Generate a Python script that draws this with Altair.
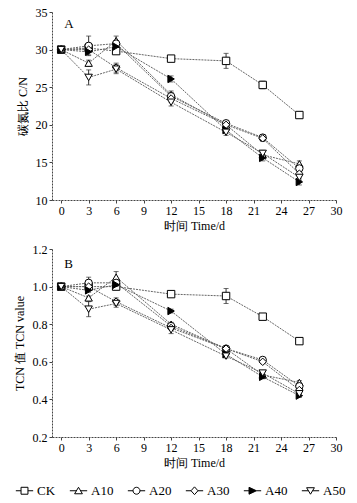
import altair as alt
import pandas as pd

days = [0, 3, 6, 12, 18, 22, 26]
series = ["CK", "A10", "A20", "A30", "A40", "A50"]

# Panel A: C/N ratio
cn_CK  = [30.0, 30.2, 29.8, 28.8, 28.5, 25.3, 21.3]
cn_A10 = [30.0, 28.2, 31.2, 24.0, 20.0, 16.0, 14.8]
cn_A20 = [30.0, 30.5, 30.8, 23.8, 20.2, 18.3, 14.2]
cn_A30 = [30.0, 30.0, 27.6, 23.5, 20.0, 18.2, 13.5]
cn_A40 = [30.0, 29.7, 30.4, 26.1, 19.3, 15.6, 12.4]
cn_A50 = [30.0, 26.3, 27.4, 23.0, 19.0, 16.2, 13.0]
cn_err_CK  = [0.3, 0.3, 0.3, 0.3, 1.0, 0.5, 0.4]
cn_err_A10 = [0.3, 0.4, 0.6, 0.5, 0.4, 0.4, 0.4]
cn_err_A20 = [0.3, 1.3, 0.4, 0.5, 0.4, 0.4, 0.4]
cn_err_A30 = [0.3, 0.4, 0.6, 0.5, 0.4, 0.4, 0.4]
cn_err_A40 = [0.3, 0.4, 0.4, 0.4, 0.4, 0.4, 0.4]
cn_err_A50 = [0.3, 1.0, 0.6, 0.5, 0.4, 0.4, 0.4]

# Panel B: T_CN value
t_CK  = [1.00, 1.00, 1.00, 0.96, 0.95, 0.84, 0.71]
t_A10 = [1.00, 0.94, 1.05, 0.80, 0.67, 0.53, 0.49]
t_A20 = [1.00, 1.02, 1.02, 0.79, 0.67, 0.61, 0.47]
t_A30 = [1.00, 1.00, 0.92, 0.78, 0.67, 0.60, 0.45]
t_A40 = [1.00, 0.98, 1.01, 0.87, 0.64, 0.52, 0.42]
t_A50 = [1.00, 0.88, 0.91, 0.77, 0.63, 0.54, 0.43]
t_err_CK  = [0.01, 0.01, 0.01, 0.01, 0.04, 0.01, 0.01]
t_err_A10 = [0.01, 0.01, 0.03, 0.01, 0.01, 0.01, 0.01]
t_err_A20 = [0.01, 0.03, 0.01, 0.01, 0.01, 0.01, 0.01]
t_err_A30 = [0.01, 0.01, 0.02, 0.01, 0.01, 0.01, 0.01]
t_err_A40 = [0.01, 0.01, 0.01, 0.01, 0.01, 0.01, 0.01]
t_err_A50 = [0.01, 0.04, 0.02, 0.02, 0.01, 0.01, 0.01]

x_ticks = [0, 3, 6, 9, 12, 15, 18, 21, 24, 27, 30]
yA_ticks = [10, 15, 20, 25, 30, 35]
yB_ticks = [0.2, 0.4, 0.6, 0.8, 1.0, 1.2]

shapes = ["square", "triangle-up", "circle", "diamond", "triangle-right", "triangle-down"]
fills = ["white", "white", "white", "white", "black", "white"]
strokes = ["black"] * 6
legend_paths = [
    "M-1,0L-0.4,0M0.4,0L1,0M-0.4,-0.4L0.4,-0.4L0.4,0.4L-0.4,0.4Z",
    "M-1,0L-0.24,0M0.24,0L1,0M-0.45,0.35L0,-0.4L0.45,0.35Z",
    "M-1,0L-0.4,0M0.4,0L1,0M-0.4,0A0.4,0.4 0 1,0 0.4,0A0.4,0.4 0 1,0 -0.4,0Z",
    "M-1,0L-0.4,0M0.4,0L1,0M0,-0.45L0.4,0L0,0.45L-0.4,0Z",
    "M-1,0L-0.4,0M0.45,0L1,0M-0.4,-0.4L0.45,0L-0.4,0.4Z",
    "M-1,0L-0.24,0M0.24,0L1,0M-0.45,-0.35L0.45,-0.35L0,0.4Z",
]

SERIF = "Liberation Serif"


def build_df(vals, errs):
    rows = []
    for s, v, e in zip(series, vals, errs):
        for d, vv, ee in zip(days, v, e):
            rows.append({"day": d, "val": vv, "lo": vv - ee, "hi": vv + ee, "series": s})
    return pd.DataFrame(rows)


dfA = build_df([cn_CK, cn_A10, cn_A20, cn_A30, cn_A40, cn_A50],
               [cn_err_CK, cn_err_A10, cn_err_A20, cn_err_A30, cn_err_A40, cn_err_A50])
dfB = build_df([t_CK, t_A10, t_A20, t_A30, t_A40, t_A50],
               [t_err_CK, t_err_A10, t_err_A20, t_err_A30, t_err_A40, t_err_A50])

W, H = 284, 188


def panel(df, ydom, yticks, ytitle, yfmt, letter, lx, ly, with_legend):
    xs = alt.Scale(domain=[-1, 30], nice=False)
    ys = alt.Scale(domain=ydom, nice=False, zero=False)
    xax = alt.Axis(values=x_ticks, title="时间 Time/d", titlePadding=4,
                   labelOverlap=False, labelFlush=False)
    yax = alt.Axis(values=yticks, title=ytitle, format=yfmt, titlePadding=6,
                   labelOverlap=False, labelFlush=False)

    def X(f):
        return alt.X(f, type="quantitative", scale=xs, axis=xax)

    def Y(f):
        return alt.Y(f, type="quantitative", scale=ys, axis=yax)

    base = alt.Chart(df)
    line = base.mark_line(color="#666", strokeWidth=1, strokeDash=[2, 1]).encode(
        x=X("day"), y=Y("val"), detail="series:N", order="day:Q")
    err = base.mark_errorbar(ticks=True, color="#333", thickness=1).encode(
        x=X("day"), y=Y("lo"), y2="hi:Q", detail="series:N")
    pts = base.mark_point(size=55, stroke="black", strokeWidth=1, opacity=1).encode(
        x=X("day"), y=Y("val"),
        shape=alt.Shape("series:N", scale=alt.Scale(domain=series, range=shapes), legend=None),
        fill=alt.Fill("series:N", scale=alt.Scale(domain=series, range=fills), legend=None),
    )
    lab = alt.Chart(pd.DataFrame({"day": [lx], "val": [ly], "t": [letter]})).mark_text(
        font=SERIF, fontSize=13, align="left", baseline="middle", color="black").encode(
        x=X("day"), y=Y("val"), text="t:N")
    layers = [line, err, pts, lab]
    if with_legend:
        leg = alt.Legend(orient="none", legendX=-37, legendY=232, direction="horizontal",
                         title=None, symbolSize=300, symbolStrokeWidth=1, symbolOpacity=1,
                         symbolStrokeColor="black", labelFont=SERIF, labelFontSize=13,
                         labelColor="black", labelOffset=3, columnPadding=11)
        ldf = pd.DataFrame({"day": [0] * 6, "val": [1.0] * 6, "lgd": series})
        dummy = alt.Chart(ldf).mark_point(size=1, opacity=1, strokeWidth=1).encode(
            x=X("day"), y=Y("val"),
            shape=alt.Shape("lgd:N", scale=alt.Scale(domain=series, range=legend_paths), legend=leg),
            fill=alt.Fill("lgd:N", scale=alt.Scale(domain=series, range=fills), legend=leg),
            stroke=alt.Stroke("lgd:N", scale=alt.Scale(domain=series, range=strokes), legend=leg),
        )
        layers.insert(0, dummy)
    ch = alt.layer(*layers).properties(width=W, height=H)
    if with_legend:
        ch = ch.resolve_scale(shape="independent", fill="independent", stroke="independent")
    return ch


A = panel(dfA, [10, 35], yA_ticks, "碳氮比 C/N", "d", "A", 0.35, 33.4, False)
B = panel(dfB, [0.2, 1.2], yB_ticks, "TCN 值 TCN value", ".1f", "B", 0.35, 1.12, True)

chart = alt.vconcat(A, B, spacing=12).properties(
    padding={"left": 13, "top": 6, "right": 5, "bottom": 5},
    background="white",
).configure_view(stroke=None).configure_axis(
    grid=False, domainColor="#444", domainWidth=1, domainDash=[2, 1],
    tickColor="#444", tickSize=3, labelFont=SERIF, labelFontSize=12, labelColor="black",
    titleFont=SERIF, titleFontSize=12, titleColor="black", titleFontWeight="normal",
    labelPadding=2, labelOverlap=False,
)

chart.save("out.html", embed_options={"renderer": "svg", "actions": False})
